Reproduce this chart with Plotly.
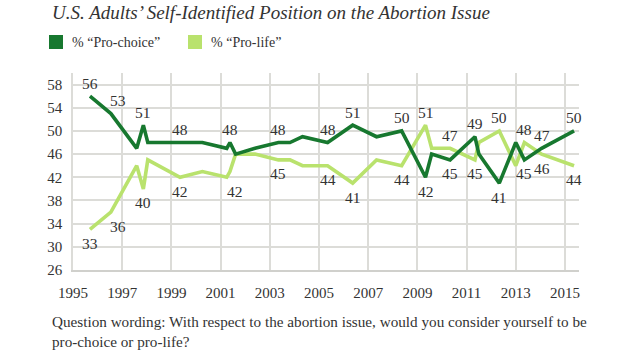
import plotly.graph_objects as go

# ---- data ----
years = [1995.69, 1996.54, 1997.59, 1997.86, 1998.04, 1999.35, 2000.26,
         2001.25, 2001.38, 2001.61, 2002.40, 2003.35, 2003.82, 2004.33,
         2005.35, 2006.37, 2007.34, 2008.36, 2009.33, 2009.58, 2010.33,
         2011.34, 2011.50, 2012.33, 2013.00, 2013.35, 2014.05, 2015.37]
pro_choice = [56, 53, 47, 51, 48, 48, 48,
              47, 48, 46, 47, 48, 48, 49,
              48, 51, 49, 50, 42, 46, 45,
              49, 46, 41, 48, 45, 47, 50]
pro_life = [33, 36, 44, 40, 45, 42, 43,
            42, 43, 46, 46, 45, 45, 44,
            44, 41, 45, 44, 51, 47, 47,
            45, 48, 50, 44, 48, 46, 44]

x_tick_years = list(range(1995, 2016, 2))
x_tick_labels = [str(y) for y in x_tick_years]
y_tick_vals = list(range(26, 59, 4))
y_tick_labels = [str(v) for v in y_tick_vals]

series_names = ["% “Pro-choice”", "% “Pro-life”"]
title_text = "U.S. Adults’ Self-Identified Position on the Abortion Issue"
note_text = ("Question wording: With respect to the abortion issue, would you consider yourself to be"
             "<br>pro-choice or pro-life?")

# labelled points: (index, side) side: +1 above, -1 below
choice_labels = [(0, 1), (1, 1), (3, 1), (5, 1), (8, 1), (11, 1), (14, 1), (15, 1),
                 (17, 1), (18, -1), (20, -1), (21, 1), (23, -1), (25, -1), (26, 1), (27, 1)]
life_labels = [(0, -1), (1, -1), (3, -1), (5, -1), (7, -1), (11, -1), (14, -1), (15, -1),
               (17, -1), (18, 1), (20, 1), (21, -1), (23, 1), (25, 1), (26, -1), (27, -1)]

# ---- styling ----
DARK = "#17782f"
LIGHT = "#b9e26d"
GRID = "#dcdcd8"
TXT = "#333333"
FONT = "Liberation Serif"

W, H = 630, 354
ML, MR, MT, MB = 73, 51, 73, 84
PW, PH = W - ML - MR, H - MT - MB


def px(xp):
    return (xp - ML) / PW


def py(yp):
    return (H - MB - yp) / PH


fig = go.Figure()
fig.add_trace(go.Scatter(x=years, y=pro_life, mode="lines", name=series_names[1],
                         line=dict(color=LIGHT, width=3.6), showlegend=False))
fig.add_trace(go.Scatter(x=years, y=pro_choice, mode="lines", name=series_names[0],
                         line=dict(color=DARK, width=3.6), showlegend=False))

annotations = []
shifts = {1: 7}
for series, labels in ((pro_choice, choice_labels), (pro_life, life_labels)):
    for i, side in labels:
        xs = shifts.get(i, 0)
        if series is pro_life and i == 7:
            xs = 8
        annotations.append(dict(
            x=years[i], y=series[i], xref="x", yref="y", text=str(series[i]),
            showarrow=False, xanchor="center", yanchor="middle",
            yshift=13 if side > 0 else -14, xshift=xs,
            font=dict(family=FONT, size=15.5, color=TXT)))

# title
annotations.append(dict(x=px(50), y=py(13), xref="paper", yref="paper", text=title_text,
                        showarrow=False, xanchor="left", yanchor="middle",
                        font=dict(family=FONT, size=19, color=TXT, style="italic")))
# legend texts
annotations.append(dict(x=px(70), y=py(42), xref="paper", yref="paper", text=series_names[0],
                        showarrow=False, xanchor="left", yanchor="middle",
                        font=dict(family=FONT, size=14, color=TXT)))
annotations.append(dict(x=px(209), y=py(42), xref="paper", yref="paper", text=series_names[1],
                        showarrow=False, xanchor="left", yanchor="middle",
                        font=dict(family=FONT, size=14, color=TXT)))
# note
annotations.append(dict(x=px(50), y=py(331), xref="paper", yref="paper", text=note_text,
                        showarrow=False, xanchor="left", yanchor="middle", align="left",
                        font=dict(family=FONT, size=15.2, color=TXT)))

shapes = [
    dict(type="rect", xref="paper", yref="paper", x0=px(49), x1=px(63), y0=py(49), y1=py(35),
         fillcolor=DARK, line=dict(width=0)),
    dict(type="rect", xref="paper", yref="paper", x0=px(188), x1=px(202), y0=py(49), y1=py(35),
         fillcolor=LIGHT, line=dict(width=0)),
]

fig.update_layout(
    width=W, height=H, autosize=False,
    margin=dict(l=ML, r=MR, t=MT, b=MB, pad=0),
    paper_bgcolor="white", plot_bgcolor="white",
    showlegend=False,
    annotations=annotations, shapes=shapes,
    xaxis=dict(range=[1995, 2015.57], tickvals=x_tick_years, ticktext=x_tick_labels,
               showgrid=True, gridcolor=GRID, gridwidth=1.5, zeroline=False,
               showline=True, linecolor="#d0d0cc", linewidth=2,
               ticks="outside", ticklen=8, tickcolor="rgba(0,0,0,0)",
               tickfont=dict(family=FONT, size=15, color=TXT), fixedrange=True),
    yaxis=dict(range=[26, 60], tickvals=y_tick_vals, ticktext=y_tick_labels,
               showgrid=True, gridcolor=GRID, gridwidth=1.5, zeroline=False,
               showline=True, linecolor=GRID, linewidth=1.5,
               ticks="outside", ticklen=6, tickcolor="rgba(0,0,0,0)",
               tickfont=dict(family=FONT, size=15, color=TXT), fixedrange=True),
)

fig.write_html("out.html")
